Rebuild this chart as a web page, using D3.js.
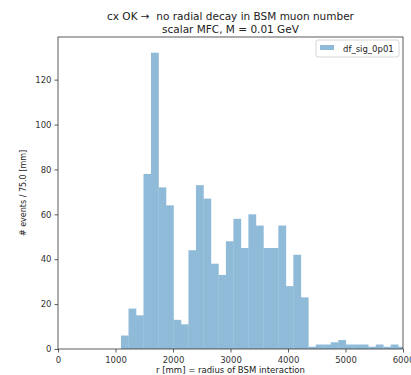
<!DOCTYPE html>
<html>
<head>
<meta charset="utf-8">
<script src="https://cdn.jsdelivr.net/npm/d3@7"></script>
<style>
  html, body { margin: 0; padding: 0; background: #fff; }
  svg { display: block; font-family: "DejaVu Sans", sans-serif; }
</style>
</head>
<body>
<svg id="chart" width="411" height="375"></svg>
<script>
// ---- data ----
const titleLines = ["cx OK \u2192\u00a0\u00a0no radial decay in BSM muon number", "scalar MFC, M = 0.01 GeV"];
const seriesName = "df_sig_0p01";
const binStart = 1096;      // mm, left edge of first bin
const binWidth = 130.3;     // mm
const counts = [6, 18, 15, 78, 132, 72, 64, 13, 11, 44, 73, 67, 38, 33, 48, 58, 45, 60, 55, 45, 45, 55, 28, 42, 23,
                1, 2, 2, 3, 4, 2, 2, 2, 1, 2, 1, 2, 1];
const xTicks = [0, 1000, 2000, 3000, 4000, 5000, 6000];
const yTicks = [0, 20, 40, 60, 80, 100, 120];
const xDomain = [0, 6000];
const yDomain = [0, 139];
const xLabel = "r [mm] = radius of BSM interaction";
const yLabel = "# events / 75.0 [mm]";

// ---- layout ----
const L = 58, R = 403, T = 37, B = 349;
const svg = d3.select("#chart");
const x = d3.scaleLinear().domain(xDomain).range([L, R]);
const y = d3.scaleLinear().domain(yDomain).range([B, T]);
const fill = "#8fbbd9";

svg.append("clipPath").attr("id", "clip")
  .append("rect").attr("x", L).attr("y", T).attr("width", R - L).attr("height", B - T);

const bins = counts.map((c, i) => ({x0: binStart + i * binWidth, x1: binStart + (i + 1) * binWidth, c}));

svg.append("g").attr("clip-path", "url(#clip)")
  .selectAll("rect").data(bins).join("rect")
  .attr("x", d => x(d.x0))
  .attr("width", d => x(d.x1) - x(d.x0) + 0.3)
  .attr("y", d => y(d.c))
  .attr("height", d => y(0) - y(d.c))
  .attr("fill", fill);

// axes
const xAxis = svg.append("g").attr("transform", `translate(0,${B})`)
  .call(d3.axisBottom(x).tickValues(xTicks).tickFormat(d3.format("d")).tickSize(3.5).tickSizeOuter(0));
const yAxis = svg.append("g").attr("transform", `translate(${L},0)`)
  .call(d3.axisLeft(y).tickValues(yTicks).tickFormat(d3.format("d")).tickSize(3.5).tickSizeOuter(0));
[xAxis, yAxis].forEach(g => {
  g.select(".domain").remove();
  g.selectAll("line").attr("stroke", "#333").attr("stroke-width", 0.8);
  g.selectAll("text").attr("fill", "#333").style("font-size", "8.5px").style("font-family", "DejaVu Sans, sans-serif");
});
xAxis.selectAll("text").attr("dy", "0.85em");

// frame
svg.append("rect").attr("x", L).attr("y", T).attr("width", R - L).attr("height", B - T)
  .attr("fill", "none").attr("stroke", "#333").attr("stroke-width", 0.8);

// titles
svg.append("g").selectAll("text").data(titleLines).join("text")
  .attr("x", (L + R) / 2).attr("y", (d, i) => 20 + i * 13)
  .attr("text-anchor", "middle").style("font-size", "10.5px").attr("fill", "#222")
  .text(d => d);

svg.append("text").attr("x", (L + R) / 2).attr("y", 373)
  .attr("text-anchor", "middle").style("font-size", "8.5px").attr("fill", "#222").text(xLabel);

svg.append("text").attr("transform", `translate(26,${(T + B) / 2}) rotate(-90)`)
  .attr("text-anchor", "middle").style("font-size", "8px").attr("fill", "#222").text(yLabel);

// legend
const lg = svg.append("g");
lg.append("rect").attr("x", 316).attr("y", 40).attr("width", 83).attr("height", 17)
  .attr("fill", "#fff").attr("stroke", "#ccc").attr("stroke-width", 0.8).attr("rx", 2);
lg.append("rect").attr("x", 320).attr("y", 45).attr("width", 14).attr("height", 5).attr("fill", fill);
lg.append("text").attr("x", 343).attr("y", 51.5).style("font-size", "8.5px").attr("fill", "#222").text(seriesName);
</script>
</body>
</html>
